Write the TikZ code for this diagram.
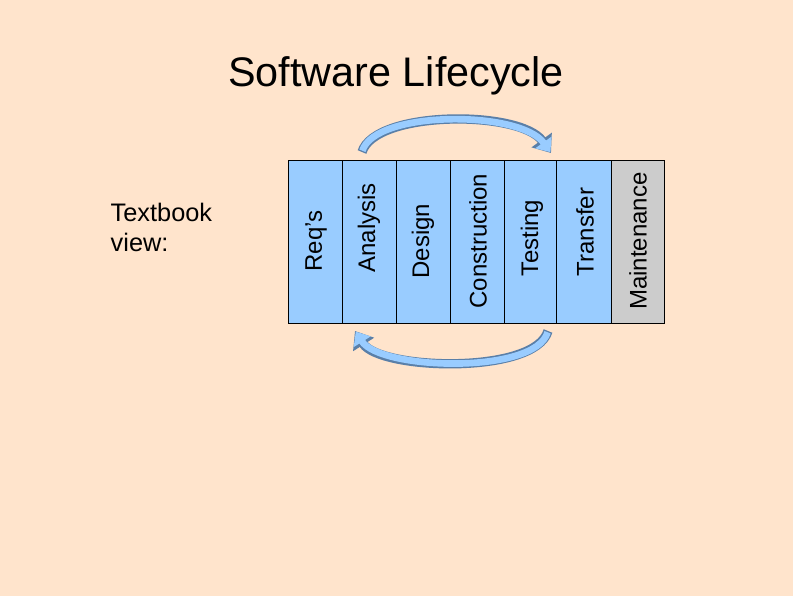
\documentclass[tikz,border=0pt]{standalone}
\usepackage{fontspec}
\setmainfont{Liberation Sans}
\usetikzlibrary{arrows.meta}
\definecolor{bg}{HTML}{FFE4CC}
\definecolor{colblue}{HTML}{99CCFF}
\definecolor{colgray}{HTML}{CCCCCC}
\definecolor{arrline}{HTML}{5A7FA8}
\begin{document}
\begin{tikzpicture}[x=0.75pt,y=-0.75pt,
  phase/.style={draw=black,line width=0.8pt,fill=colblue,minimum height=163*0.75pt,inner sep=0pt,anchor=north west},
  lbl/.style={rotate=90,font=\fontsize{18}{20}\selectfont},
  arrout/.style={line width=7pt,draw=arrline,-{Triangle[length=12pt,width=18pt,fill=arrline]}},
  arrin/.style={line width=5pt,draw=colblue,-{Triangle[length=9pt,width=14.5pt,fill=colblue]}}]
\fill[bg] (0,0) rectangle (793,596);
\useasboundingbox (0,0) rectangle (793,596);
\node (title) at (396,76) {\fontsize{31}{36}\selectfont Software Lifecycle};
\node[align=left,anchor=north west,font=\fontsize{19}{23}\selectfont] (tb) at (106,198) {Textbook\\view:};
\node[phase,minimum width=54*0.75pt] (r) at (288,160) {};
\node[phase,minimum width=54*0.75pt] (a) at (342,160) {};
\node[phase,minimum width=54*0.75pt] (d) at (396,160) {};
\node[phase,minimum width=54*0.75pt] (c) at (450,160) {};
\node[phase,minimum width=52*0.75pt] (t) at (504,160) {};
\node[phase,minimum width=55*0.75pt] (tr) at (556,160) {};
\node[phase,minimum width=53*0.75pt,fill=colgray] (m) at (611,160) {};
\node[lbl,anchor=east] at ([yshift=-4pt]r.south) {};
\node[lbl] at (316,241) {Req's};
\node[lbl] at (369,228) {Analysis};
\node[lbl] at (423,241) {Design};
\node[lbl] at (478,241) {Construction};
\node[lbl] at (532,238) {Testing};
\node[lbl] at (585,232) {Transfer};
\node[lbl] at (638,241) {Maintenance};
\coordinate (s1) at (362,152);
\coordinate (e1) at (551,153);
\coordinate (s2) at (548,331);
\coordinate (e2) at (355,331);
\draw[arrout] (s1) .. controls (375,110) and (520,110) .. (e1);
\draw[arrin,shorten <=1pt] (s1) .. controls (375,110) and (520,110) .. ([shift={(-0.6,-0.8)}]e1);
\draw[arrout] (s2) .. controls (535,375) and (380,370) .. (e2);
\draw[arrin,shorten <=1pt] (s2) .. controls (535,375) and (380,370) .. ([shift={(0.8,0.6)}]e2);
\end{tikzpicture}
\end{document}
